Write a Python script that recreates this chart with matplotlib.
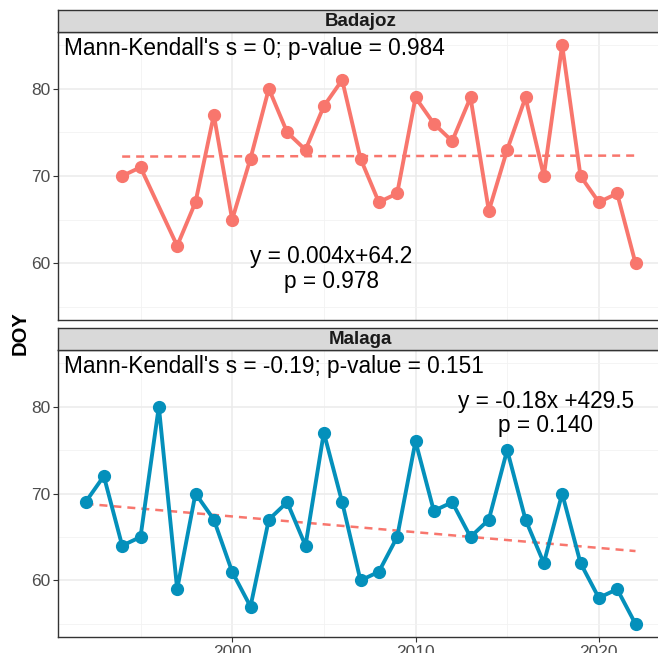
"""
Série de DOY por estação com tendência linear (Badajoz e Malaga)
"""

import matplotlib
matplotlib.use('Agg')
import matplotlib.pyplot as plt
import numpy as np

plt.rcParams['font.family'] = ['Liberation Sans', 'DejaVu Sans']

# Dados
badajoz_years = [1994, 1995, 1997, 1998, 1999, 2000, 2001, 2002, 2003, 2004,
                 2005, 2006, 2007, 2008, 2009, 2010, 2011, 2012, 2013, 2014,
                 2015, 2016, 2017, 2018, 2019, 2020, 2021, 2022]
badajoz_doy = [70, 71, 62, 67, 77, 65, 72, 80, 75, 73,
               78, 81, 72, 67, 68, 79, 76, 74, 79, 66,
               73, 79, 70, 85, 70, 67, 68, 60]

malaga_years = list(range(1992, 2023))
malaga_doy = [69, 72, 64, 65, 80, 59, 70, 67, 61, 57,
              67, 69, 64, 77, 69, 60, 61, 65, 76, 68,
              69, 65, 67, 75, 67, 62, 70, 62, 58, 59, 55]

badajoz_mk = "Mann-Kendall's s = 0; p-value = 0.984"
badajoz_eq = 'y = 0.004x+64.2\np = 0.978'
malaga_mk = "Mann-Kendall's s = -0.19; p-value = 0.151"
malaga_eq = 'y = -0.18x +429.5\np = 0.140'

COR_BADAJOZ = '#F8766D'
COR_MALAGA = '#0490BB'
COR_TREND = '#F8766D'

W, H = 658, 653
fig = plt.figure(figsize=(W / 100, H / 100), dpi=100)


def px_axes(x0, y0, x1, y1):
    # retângulo em pixels (origem no topo) -> coordenadas da figura
    return fig.add_axes([x0 / W, 1 - y1 / H, (x1 - x0) / W, (y1 - y0) / H])


def painel(ax, anos, valores, cor, mk_txt, eq_txt, eq_pos):
    anos = np.array(anos)
    valores = np.array(valores)

    # tendência linear (mínimos quadrados)
    coef = np.polyfit(anos, valores, 1)
    xs = np.array([anos.min(), anos.max()])
    ax.plot(xs, np.polyval(coef, xs), color=COR_TREND, lw=1.8,
            dashes=(3.2, 2.4), zorder=2)

    ax.plot(anos, valores, color=cor, lw=2.8, marker='o', markersize=8.5,
            solid_joinstyle='round', solid_capstyle='round', zorder=3)

    ax.set_xlim(1990.5, 2023.5)
    ax.set_ylim(53.5, 86.5)
    ax.set_xticks([2000, 2010, 2020])
    ax.set_xticks([1995, 2005, 2015], minor=True)
    ax.set_yticks([60, 70, 80])
    ax.set_yticks([55, 65, 75, 85], minor=True)
    ax.grid(True, which='major', color='#EBEBEB', lw=1.1, zorder=0)
    ax.grid(True, which='minor', color='#F2F2F2', lw=0.6, zorder=0)
    ax.set_axisbelow(True)
    ax.tick_params(which='major', length=3.5, width=0.8, color='#333333',
                   labelsize=12.5, labelcolor='#4D4D4D', pad=2)
    ax.tick_params(which='minor', length=0)
    for s in ax.spines.values():
        s.set_color('#333333')
        s.set_linewidth(1.0)

    ax.text(1990.85, 84.6, mk_txt, fontsize=16.3, ha='left', va='center',
            color='black')
    ax.text(eq_pos[0], eq_pos[1], eq_txt, fontsize=16.3, ha='center',
            va='center', color='black', linespacing=1.1)


def faixa(x0, y0, x1, y1, titulo):
    ax = px_axes(x0, y0, x1, y1)
    ax.set_facecolor('#D9D9D9')
    ax.set_xticks([])
    ax.set_yticks([])
    for s in ax.spines.values():
        s.set_color('#333333')
        s.set_linewidth(1.0)
    ax.text(0.5, 0.5, titulo, transform=ax.transAxes, ha='center',
            va='center', fontsize=13.5, fontweight='bold', color='#1A1A1A')


X0, X1 = 58, 663

ax1 = px_axes(X0, 32, X1, 320)
painel(ax1, badajoz_years, badajoz_doy, COR_BADAJOZ, badajoz_mk, badajoz_eq,
       (2005.4, 59.3))
ax1.tick_params(axis='x', labelbottom=False, length=0)
faixa(X0, 10, X1, 32, 'Badajoz')

ax2 = px_axes(X0, 350, X1, 637)
painel(ax2, malaga_years, malaga_doy, COR_MALAGA, malaga_mk, malaga_eq,
       (2017.1, 79.2))
faixa(X0, 328, X1, 350, 'Malaga')

fig.text(20 / W, 1 - 333 / H, 'DOY', rotation=90, ha='center', va='center',
         fontsize=14.5, fontweight='bold')

fig.savefig('out.png', dpi=100)
